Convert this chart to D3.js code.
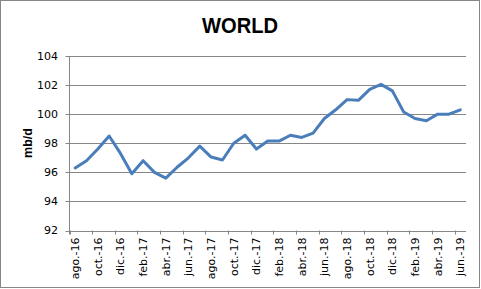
<!DOCTYPE html>
<html>
<head>
<meta charset="utf-8">
<script src="https://cdn.jsdelivr.net/npm/d3@7"></script>
<style>
  body { margin: 0; background: #fff; }
  svg { display: block; }
</style>
</head>
<body>
<svg id="chart" width="481" height="289"></svg>
<script>
// monthly categories, ago-16 .. jun-19
const months = ["ene.", "feb.", "mar.", "abr.", "may.", "jun.", "jul.", "ago.", "sep.", "oct.", "nov.", "dic."];
const categories = [];
for (let y = 2016, m = 7; categories.length < 35; m++) {
    if (m === 12) { m = 0; y++; }
    categories.push(months[m] + "-" + String(y).slice(2));
}

// demand, mb/d
const values = [
    96.3, 96.8, 97.6, 98.5, 97.3, 95.9, 96.8, 96.0, 95.6, 96.35,
    97.0, 97.8, 97.05, 96.85, 98.0, 98.55, 97.6, 98.15, 98.15, 98.55,
    98.4, 98.7, 99.7, 100.3, 101.0, 100.95, 101.7, 102.05, 101.6, 100.15,
    99.7, 99.55, 100.0, 100.0, 100.3
];

const yTicks = [92, 94, 96, 98, 100, 102, 104];

const svg = d3.select("#chart");
const margin = { left: 69.5, right: 15, top: 56, bottom: 58.5 };
const width = 481, height = 289;

// outer chart border
svg.append("rect")
    .attr("x", 0.5).attr("y", 0.5)
    .attr("width", 479).attr("height", 287)
    .attr("fill", "#fff")
    .attr("stroke", "#868686");

const x = d3.scaleBand()
    .domain(categories)
    .range([margin.left, width - margin.right])
    .paddingInner(0).paddingOuter(0);

const y = d3.scaleLinear()
    .domain([92, 104])
    .range([height - margin.bottom, margin.top]);

// gridlines
svg.append("g")
    .selectAll("line")
    .data(yTicks)
    .enter().append("line")
    .attr("x1", margin.left - 4)
    .attr("x2", width - margin.right)
    .attr("y1", d => Math.round(y(d)) + 0.5)
    .attr("y2", d => Math.round(y(d)) + 0.5)
    .attr("stroke", "#868686")
    .attr("stroke-width", 1);

// y tick labels
svg.append("g")
    .selectAll("text")
    .data(yTicks)
    .enter().append("text")
    .attr("x", 58)
    .attr("y", d => y(d))
    .attr("dy", "0.35em")
    .attr("text-anchor", "end")
    .style("font-family", "DejaVu Sans")
    .style("font-size", "11px")
    .attr("fill", "#000")
    .text(d => d);

// y axis line
svg.append("line")
    .attr("x1", margin.left).attr("x2", margin.left)
    .attr("y1", y(104)).attr("y2", y(92) + 4)
    .attr("stroke", "#868686");

// x ticks every 2 categories, at boundaries
const tickIdx = d3.range(0, categories.length, 2);
svg.append("g")
    .selectAll("line")
    .data(tickIdx)
    .enter().append("line")
    .attr("x1", i => Math.round(x(categories[i])) + 0.5)
    .attr("x2", i => Math.round(x(categories[i])) + 0.5)
    .attr("y1", y(92))
    .attr("y2", y(92) + 4)
    .attr("stroke", "#868686");

// x labels, rotated
svg.append("g")
    .selectAll("text")
    .data(tickIdx)
    .enter().append("text")
    .attr("transform", i => `translate(${x(categories[i]) + x.bandwidth() / 2},${y(92) + 7}) rotate(-90)`)
    .attr("text-anchor", "end")
    .attr("dy", "0.35em")
    .style("font-family", "DejaVu Sans")
    .style("font-size", "11px")
    .attr("fill", "#000")
    .text(i => categories[i]);

// series line
const line = d3.line()
    .x((d, i) => x(categories[i]) + x.bandwidth() / 2)
    .y(d => y(d));

svg.append("path")
    .datum(values)
    .attr("d", line)
    .attr("fill", "none")
    .attr("stroke", "#4a7ebb")
    .attr("stroke-width", 3)
    .attr("stroke-linejoin", "round")
    .attr("stroke-linecap", "round");

// title
svg.append("text")
    .attr("x", 240)
    .attr("y", 33)
    .attr("text-anchor", "middle")
    .style("font-family", "Liberation Sans")
    .style("font-weight", "bold")
    .style("font-size", "22px")
    .attr("textLength", 76)
    .attr("lengthAdjust", "spacingAndGlyphs")
    .text("WORLD");

// y axis title
svg.append("text")
    .attr("transform", "translate(28,143) rotate(-90)")
    .attr("text-anchor", "middle")
    .attr("dy", "0.35em")
    .style("font-family", "Liberation Sans")
    .style("font-weight", "bold")
    .style("font-size", "12.5px")
    .text("mb/d");
</script>
</body>
</html>
